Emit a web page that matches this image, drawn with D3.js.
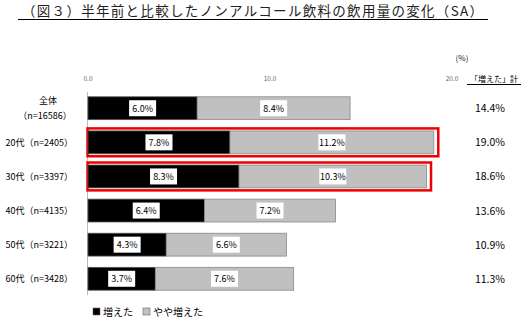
<!DOCTYPE html>
<html>
<head>
<meta charset="utf-8">
<script src="https://cdn.jsdelivr.net/npm/d3@7"></script>
<style>
  body { margin: 0; background: #fff; }
  text { font-family: "Noto Sans CJK JP", "DejaVu Sans", sans-serif; }
</style>
</head>
<body>
<svg id="chart" width="530" height="326"></svg>
<script>
// data
const categories = ['全体', '20代', '30代', '40代', '50代', '60代']
const sampleSizes = ['（n=16586）', '（n=2405）', '（n=3397）', '（n=4135）', '（n=3221）', '（n=3428）']
const increased = [6.0, 7.8, 8.3, 6.4, 4.3, 3.7]
const slightlyIncreased = [8.4, 11.2, 10.3, 7.2, 6.6, 7.6]
const totals = [14.4, 19.0, 18.6, 13.6, 10.9, 11.3]
const xTicks = [0, 10, 20]
const highlighted = ['20代', '30代']
const seriesNames = ['増えた', 'やや増えた']

let svg = d3.select('#chart')

let x = d3.scaleLinear().domain([0, 20]).range([88, 452])
let y = d3.scaleBand().domain(categories).range([91, 296]).paddingInner(0.33).paddingOuter(0.17)

// title
svg.append('text')
  .attr('x', 22).attr('y', 16)
  .attr('textLength', 461).attr('lengthAdjust', 'spacing')
  .attr('font-size', 13.5).attr('fill', '#222')
  .text('（図３）半年前と比較したノンアルコール飲料の飲用量の変化（SA）')
svg.append('line')
  .attr('x1', 18).attr('x2', 488).attr('y1', 19.5).attr('y2', 19.5)
  .attr('stroke', '#000').attr('stroke-width', 1)

// x ticks on top
svg.selectAll('.tick-label').data(xTicks).enter().append('text')
  .attr('x', d => x(d)).attr('y', 81)
  .attr('text-anchor', 'middle')
  .attr('font-size', 6.5).attr('fill', '#666')
  .text(d => d.toFixed(1))

svg.append('text')
  .attr('x', 462).attr('y', 61).attr('text-anchor', 'middle')
  .attr('font-size', 8).attr('fill', '#222').text('(%)')

svg.append('text')
  .attr('x', 494).attr('y', 82).attr('text-anchor', 'middle')
  .attr('font-size', 8).attr('fill', '#000').text('「増えた」計')
svg.append('line')
  .attr('x1', 467).attr('x2', 521).attr('y1', 84.5).attr('y2', 84.5)
  .attr('stroke', '#000')

// vertical axis line
svg.append('line')
  .attr('x1', 87.5).attr('x2', 87.5).attr('y1', 92).attr('y2', 295)
  .attr('stroke', '#bbb')

let rows = categories.map((c, i) => ({
  cat: c, n: sampleSizes[i], a: increased[i], b: slightlyIncreased[i], total: totals[i]
}))

let g = svg.selectAll('.row').data(rows).enter().append('g').attr('class', 'row')

// highlight boxes
g.filter(d => highlighted.includes(d.cat)).append('rect')
  .attr('x', 87.5).attr('y', d => y(d.cat) - 2.5)
  .attr('width', d => x(d.total) - x(0) + 5)
  .attr('height', y.bandwidth() + 5)
  .attr('fill', 'none').attr('stroke', '#ee0000').attr('stroke-width', 2.5)

// bars
g.append('rect')
  .attr('x', x(0)).attr('y', d => y(d.cat))
  .attr('width', d => x(d.a) - x(0)).attr('height', y.bandwidth())
  .attr('fill', '#000').attr('stroke', '#555').attr('stroke-width', 0.8)
g.append('rect')
  .attr('x', d => x(d.a)).attr('y', d => y(d.cat))
  .attr('width', d => x(d.a + d.b) - x(d.a)).attr('height', y.bandwidth())
  .attr('fill', '#c0c0c0').attr('stroke', '#888').attr('stroke-width', 0.8)

// value labels in white boxes
let addLabel = (sel, pos, val) => {
  sel.append('rect')
    .attr('x', d => pos(d) - 13.5).attr('y', d => y(d.cat) + y.bandwidth() / 2 - 8)
    .attr('width', 27).attr('height', 16).attr('fill', '#fff')
  sel.append('text')
    .attr('x', d => pos(d)).attr('y', d => y(d.cat) + y.bandwidth() / 2 + 3.5)
    .attr('text-anchor', 'middle').attr('font-size', 9).attr('fill', '#000')
    .attr('font-family', 'DejaVu Sans')
    .text(d => val(d).toFixed(1) + '%')
}
addLabel(g, d => (x(0) + x(d.a)) / 2, d => d.a)
addLabel(g, d => (x(d.a) + x(d.a + d.b)) / 2, d => d.b)

// totals
g.append('text')
  .attr('x', 490).attr('y', d => y(d.cat) + y.bandwidth() / 2 + 4)
  .attr('text-anchor', 'middle').attr('font-size', 10.5).attr('fill', '#000')
  .attr('font-family', 'DejaVu Sans')
  .text(d => d.total.toFixed(1) + '%')

// category labels
g.each(function(d, i) {
  let cy = y(d.cat) + y.bandwidth() / 2
  if (i === 0) {
    d3.select(this).append('text')
      .attr('x', 48).attr('y', cy - 4).attr('text-anchor', 'middle')
      .attr('font-size', 9).text(d.cat)
    d3.select(this).append('text')
      .attr('x', 45).attr('y', cy + 11).attr('text-anchor', 'middle')
      .attr('font-size', 9).text(d.n)
  } else {
    d3.select(this).append('text')
      .attr('x', 73).attr('y', cy + 3.5).attr('text-anchor', 'end')
      .attr('font-size', 9).text(d.cat + d.n)
  }
})

// legend
let legend = svg.append('g')
let lx = [93, 143]
seriesNames.forEach((s, i) => {
  legend.append('rect')
    .attr('x', lx[i]).attr('y', 308).attr('width', 7).attr('height', 7)
    .attr('fill', i === 0 ? '#000' : '#c0c0c0').attr('stroke', '#666').attr('stroke-width', 0.6)
  legend.append('text')
    .attr('x', lx[i] + 10).attr('y', 316).attr('font-size', 10).text(s)
})
</script>
</body>
</html>
